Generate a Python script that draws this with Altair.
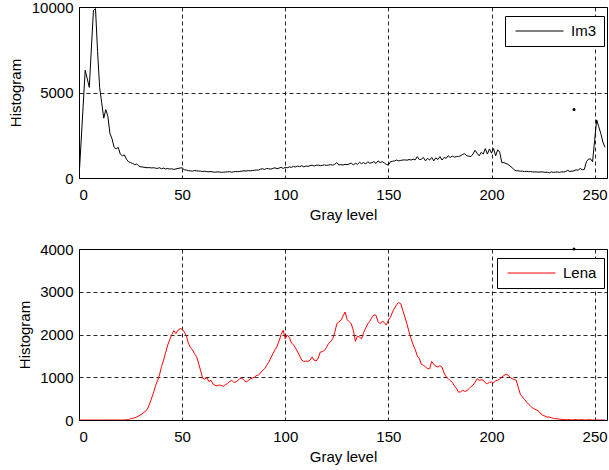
import altair as alt
import pandas as pd

gray_levels = list(range(256))

im3_counts = [
    0, 2100, 4200, 6300, 5800, 5300, 7600, 9800, 9900, 7400,
    5300, 4400, 3500, 4000, 3600, 2600, 2300, 1800, 1700, 1800,
    1400, 1300, 1350, 1100, 950, 900, 850, 780, 820, 700,
    650, 640, 620, 600, 610, 590, 600, 580, 560, 600,
    540, 580, 530, 560, 520, 540, 500, 530, 560, 580,
    600, 480, 470, 430, 420, 400, 440, 420, 410, 400,
    380, 400, 370, 360, 380, 350, 340, 360, 350, 330,
    340, 350, 360, 370, 340, 360, 380, 370, 390, 400,
    420, 410, 430, 420, 440, 450, 470, 460, 520, 540,
    500, 560, 540, 520, 560, 600, 540, 580, 620, 560,
    620, 600, 650, 620, 680, 640, 700, 660, 720, 650,
    700, 680, 720, 750, 700, 740, 760, 720, 740, 770,
    730, 760, 780, 750, 800, 900, 760, 780, 760, 800,
    780, 820, 880, 760, 860, 800, 920, 840, 900, 820,
    950, 860, 900, 960, 850, 1000, 900, 960, 880, 800,
    760, 950, 980, 1000, 1050, 1000, 1030, 1050, 1060, 1040,
    1080, 1050, 1100, 1060, 1250, 1080, 1100, 1200, 1000, 1150,
    1050, 1200, 1000, 1180, 1080, 1250, 1050, 1200, 1150, 1300,
    1200, 1280, 1220, 1250, 1260, 1300, 1380, 1420, 1300, 1280,
    1250, 1400, 1620, 1450, 1300, 1500, 1400, 1720, 1400, 1700,
    1450, 1720, 1300, 1650, 1500, 900, 900, 850, 800, 700,
    600, 480, 420, 420, 400, 400, 380, 390, 370, 380,
    350, 360, 350, 340, 360, 350, 330, 340, 300, 360,
    330, 340, 350, 330, 360, 350, 380, 450, 380, 400,
    420, 480, 450, 560, 480, 500, 950, 1100, 1120, 950,
    2200, 3400, 3000, 2600, 2100, 1800,
]

lena_counts = [
    0, 0, 0, 0, 0, 0, 0, 0, 0, 0,
    0, 0, 0, 0, 0, 0, 0, 0, 0, 0,
    0, 0, 0, 5, 10, 30, 40, 50, 70, 100,
    125, 160, 200, 240, 350, 480, 620, 780, 920, 1050,
    1250, 1400, 1580, 1750, 1880, 2000, 2090, 2020, 2100, 2140,
    2120, 2060, 1980, 1800, 1700, 1640, 1550, 1480, 1320, 1150,
    970, 960, 990, 900, 930, 840, 810, 800, 820, 810,
    790, 830, 850, 900, 930, 880, 890, 920, 970, 980,
    930, 890, 920, 960, 980, 1000, 1040, 1050, 1100, 1160,
    1200, 1280, 1350, 1450, 1550, 1640, 1720, 1850, 2000, 2100,
    1900, 1990, 1930, 1800, 1760, 1680, 1590, 1500, 1400, 1370,
    1380, 1370, 1400, 1475, 1400, 1380, 1450, 1590, 1600, 1630,
    1700, 1790, 1830, 1900, 2050, 2250, 2300, 2330, 2430, 2525,
    2350, 2300, 2250, 2100, 1840, 1960, 1940, 1900, 2050, 2150,
    2250, 2310, 2400, 2460, 2450, 2300, 2250, 2310, 2280, 2220,
    2330, 2400, 2525, 2620, 2700, 2745, 2720, 2560, 2410, 2250,
    2060, 1900, 1760, 1650, 1500, 1440, 1300, 1280, 1240, 1200,
    1200, 1370, 1300, 1260, 1240, 1270, 1240, 1100, 1010, 970,
    920, 880, 800, 740, 650, 660, 695, 670, 680, 730,
    780, 810, 880, 965, 930, 940, 930, 870, 850, 880,
    890, 870, 920, 930, 960, 1005, 1040, 1075, 1050, 1000,
    965, 950, 930, 760, 600, 540, 480, 420, 370, 320,
    280, 250, 230, 200, 140, 110, 90, 70, 70, 50,
    40, 30, 30, 20, 15, 10, 10, 5, 10, 0,
    5, 10, 0, 5, 10, 0, 0, 10, 5, 0,
    0, 5, 0, 0, 0, 0,
]

dot_x = [240]
dot_y = [4000]

x_ticks = [0, 50, 100, 150, 200, 250]
im3_ticks = [0, 5000, 10000]
lena_ticks = [0, 1000, 2000, 3000, 4000]

FONT = "Liberation Sans"


def panel(values, name, color, ymax, yticks, title_x, legend_x):
    df = pd.DataFrame({"gray": gray_levels, "count": values, "series": [name] * len(values)})
    dots = pd.DataFrame({"gray": dot_x, "count": dot_y})
    xenc = alt.X(
        "gray:Q",
        scale=alt.Scale(domain=[0, 256], nice=False, zero=False),
        axis=alt.Axis(values=x_ticks, title="Gray level", format="d"),
    )
    yenc = alt.Y(
        "count:Q",
        scale=alt.Scale(domain=[0, ymax], nice=False),
        axis=alt.Axis(values=yticks, title="Histogram", titleX=title_x, format="d",
                      titleBaseline="middle", titleAnchor="middle"),
    )
    line = alt.Chart(df).mark_line(strokeWidth=1, clip=True).encode(
        x=xenc,
        y=yenc,
        color=alt.Color(
            "series:N",
            scale=alt.Scale(domain=[name], range=[color]),
            legend=alt.Legend(
                title=None, orient="none", legendX=legend_x, legendY=9,
                symbolType="M-3.2,0L3.2,0", symbolSize=225, symbolStrokeWidth=1,
                symbolOffset=19.5, labelOffset=23.5, padding=7,
                fillColor="white", strokeColor="black", cornerRadius=0,
                labelFont=FONT, labelFontSize=15, labelColor="black",
            ),
        ),
    )
    dot = alt.Chart(dots).mark_point(filled=True, size=9, color="black", opacity=1).encode(
        x=alt.X("gray:Q"), y=alt.Y("count:Q")
    )
    return alt.layer(line, dot).properties(width=528, height=171)


top = panel(im3_counts, "Im3", "#000000", 10000, im3_ticks, -63.5, 426)
bottom = panel(lena_counts, "Lena", "#ff0000", 4000, lena_ticks, -55, 418)

chart = (
    alt.vconcat(top, bottom, spacing=71, bounds="flush", background="white")
    .resolve_scale(color="independent", x="independent", y="independent")
    .properties(padding={"left": 8, "top": -1, "right": 0, "bottom": 0})
    .configure_view(stroke="black", strokeWidth=1)
    .configure_axis(
        grid=True, gridDash=[4, 3], gridColor="#000000", gridOpacity=0.85, gridWidth=1,
        domain=False, ticks=False,
        labelFont=FONT, labelFontSize=15, labelColor="black",
        titleFont=FONT, titleFontSize=15, titleColor="black", titleFontWeight="normal",
    )
    .configure_axisX(labelPadding=9, titlePadding=5)
    .configure_axisY(labelPadding=6)
)

chart.save("out.html", embed_options={"renderer": "svg", "actions": False})
